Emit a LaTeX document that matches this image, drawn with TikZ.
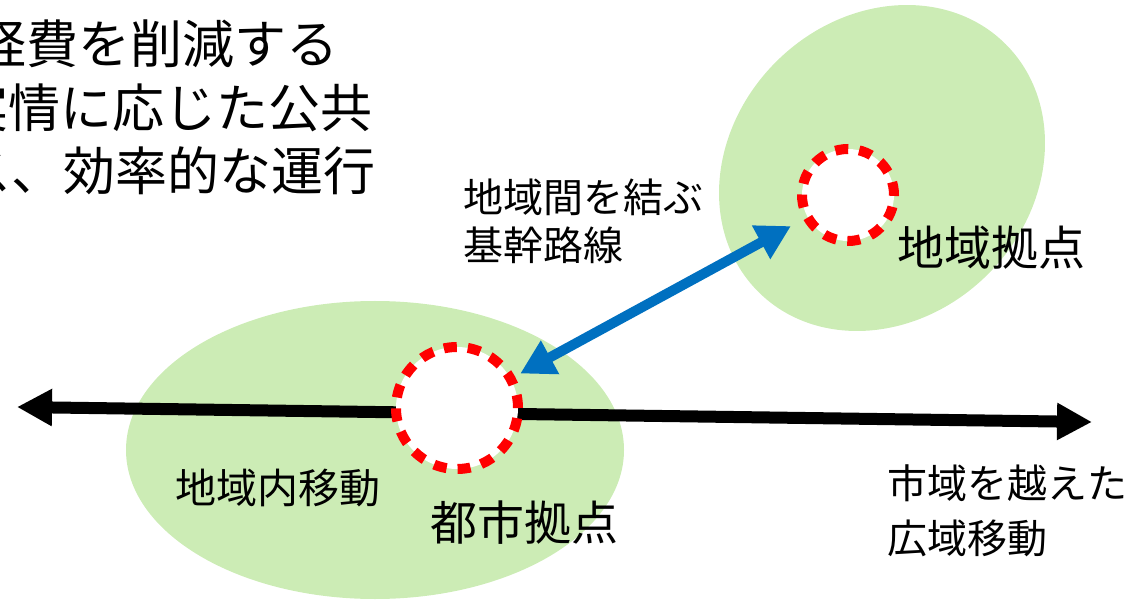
\documentclass[tikz,border=0pt]{standalone}
\usepackage{fontspec}
\setmainfont{Noto Sans CJK JP}
\usetikzlibrary{arrows.meta,shapes.geometric}
\definecolor{areagreen}{RGB}{204,236,181}
\definecolor{linkblue}{RGB}{0,112,192}
\definecolor{hubred}{RGB}{255,0,0}
\tikzset{
  area/.style={ellipse, fill=areagreen, draw=none, inner sep=0pt},
  hub/.style={circle, draw=hubred, fill=white, line width=10pt, dash pattern=on 13pt off 11pt, inner sep=0pt},
  corridor/.style={line width=12pt, draw=black, {Triangle[length=35pt,width=35pt]}-{Triangle[length=35pt,width=35pt]}},
  trunk/.style={line width=10pt, draw=linkblue, {Triangle[length=34pt,width=36pt]}-{Triangle[length=34pt,width=36pt]}, shorten <=6pt, shorten >=14pt},
  lbl/.style={inner sep=0pt, anchor=base west, text=black},
  fbig/.style={font=\fontsize{52pt}{62pt}\selectfont},
  fmid/.style={font=\fontsize{47pt}{56pt}\selectfont},
  fsml/.style={font=\fontsize{41pt}{49pt}\selectfont},
  fxs/.style={font=\fontsize{40pt}{48pt}\selectfont}
}
\begin{document}
\begin{tikzpicture}[x=1pt,y=-1pt]
\useasboundingbox (0,0) rectangle (1135,601);
% areas
\node[area, minimum width=498pt, minimum height=298pt] (cityarea) at (375,450) {};
\node[area, minimum width=350pt, minimum height=300pt, rotate=45] (regionarea) at (882,168) {};
% wide-area corridor
\coordinate (wl) at (17,407);
\coordinate (wr) at (1092,422);
\draw[corridor] (wl) -- (wr);
% hubs
\node[hub, minimum size=122pt] (city) at (457,408) {};
\node[hub, minimum size=92pt] (region) at (848,195) {};
% trunk line
\draw[trunk] (city) -- (region);
% labels
\node[lbl, fbig] (t1) at (-26,64) {経費を削減する};
\node[lbl, fbig] (t2) at (-44,128) {実情に応じた公共};
\node[lbl, fbig] (t3) at (-41,191) {ス、効率的な運行};
\node[lbl, fxs] (k1) at (463,213) {地域間を結ぶ};
\node[lbl, fxs] (k2) at (463,261) {基幹路線};
\node[lbl, fmid] (rl) at (897,266) {地域拠点};
\node[lbl, fsml] (il) at (175,503) {地域内移動};
\node[lbl, fmid] (cl) at (430,540) {都市拠点};
\node[lbl, fxs] (w1) at (887,498) {市域を越えた};
\node[lbl, fxs] (w2) at (887,553) {広域移動};
\end{tikzpicture}
\end{document}
